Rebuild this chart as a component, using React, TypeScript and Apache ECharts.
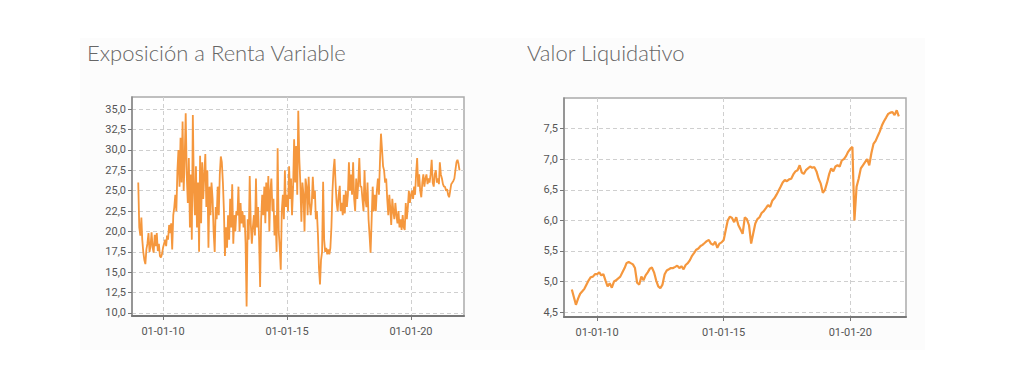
import React, { useEffect, useRef } from "react";
import * as echarts from "echarts";

// ---- Exposición a Renta Variable (%), semi-monthly readings per year ----
const expo2009 = [26.0, 20.5, 19.5, 21.7, 19.0, 17.5, 16.5, 16.0, 17.8, 18.5, 19.8, 17.5, 18.2, 19.9, 18.0, 17.4, 19.6, 18.2, 19.8, 17.6, 18.5, 17.0, 16.8, 17.2];
const expo2010 = [18.0, 18.5, 19.0, 18.2, 19.5, 19.0, 20.8, 19.8, 21.0, 17.8, 22.0, 23.0, 24.5, 22.5, 27.5, 30.0, 25.5, 31.5, 26.0, 33.5, 25.0, 29.0, 34.5, 27.0];
const expo2011 = [23.5, 29.0, 20.5, 27.0, 19.0, 34.3, 25.0, 22.0, 28.0, 20.5, 26.0, 17.5, 29.3, 21.0, 28.5, 24.0, 27.0, 29.5, 23.0, 27.5, 18.0, 25.5, 22.0, 26.0];
const expo2012 = [24.0, 20.0, 17.5, 23.0, 21.5, 25.5, 22.0, 27.0, 29.2, 28.5, 26.0, 22.5, 17.0, 20.5, 18.0, 22.0, 19.0, 24.0, 20.5, 25.8, 18.5, 22.0, 20.0, 22.5];
const expo2013 = [22.0, 25.5, 20.0, 23.5, 21.0, 22.5, 20.5, 22.0, 18.5, 10.8, 21.5, 19.0, 26.8, 21.0, 18.5, 20.5, 22.0, 19.5, 26.5, 20.5, 23.0, 19.0, 13.2, 21.5];
const expo2014 = [24.5, 22.0, 25.5, 21.0, 26.0, 22.5, 26.8, 20.0, 25.0, 26.5, 22.5, 24.0, 19.5, 22.0, 17.5, 30.2, 20.0, 18.0, 15.3, 22.5, 24.5, 21.5, 27.5, 23.0];
const expo2015 = [24.5, 22.5, 28.0, 24.0, 26.5, 22.0, 25.5, 31.3, 26.0, 30.5, 24.5, 34.8, 29.0, 26.0, 21.2, 26.0, 24.5, 20.0, 26.5, 25.5, 22.0, 26.7, 23.5, 22.0];
const expo2016 = [23.5, 26.7, 24.0, 25.0, 21.5, 22.5, 19.6, 15.5, 13.5, 16.5, 17.5, 26.1, 19.0, 17.5, 18.0, 17.2, 17.8, 17.2, 18.0, 20.5, 25.0, 27.5, 28.9, 26.0];
const expo2017 = [23.5, 22.5, 24.5, 25.6, 22.5, 23.5, 22.0, 24.5, 22.2, 25.0, 23.0, 24.5, 28.5, 25.0, 27.0, 24.5, 28.5, 24.0, 22.5, 26.5, 24.0, 26.0, 29.0, 25.5];
const expo2018 = [25.5, 24.0, 22.5, 27.5, 24.0, 23.0, 26.0, 21.5, 19.5, 17.4, 21.5, 25.5, 22.5, 24.5, 22.5, 25.0, 26.5, 24.5, 28.5, 32.0, 30.0, 28.0, 27.5, 26.0];
const expo2019 = [26.5, 24.0, 22.0, 24.5, 23.0, 20.8, 24.0, 22.5, 21.5, 23.5, 22.0, 21.0, 22.5, 20.5, 21.5, 20.2, 22.0, 20.5, 20.2, 23.5, 21.5, 23.0, 25.0, 23.5];
const expo2020 = [24.5, 25.0, 24.0, 25.5, 24.5, 27.0, 29.0, 25.5, 27.0, 25.0, 24.2, 26.0, 27.0, 25.5, 26.5, 27.0, 25.8, 26.5, 26.0, 27.0, 28.8, 26.0, 25.5, 27.0];
const expo2021 = [27.5, 26.0, 26.5, 25.8, 28.5, 27.0, 26.5, 25.8, 25.5, 25.5, 25.0, 25.2, 24.5, 24.2, 25.0, 25.8, 26.0, 26.2, 26.5, 27.5, 28.5, 28.8, 28.3, 27.5];
const expoYears = [2009, 2010, 2011, 2012, 2013, 2014, 2015, 2016, 2017, 2018, 2019, 2020, 2021];
const expoByYear = [expo2009, expo2010, expo2011, expo2012, expo2013, expo2014, expo2015, expo2016, expo2017, expo2018, expo2019, expo2020, expo2021];

// ---- Valor Liquidativo, monthly readings per year ----
const nav2009 = [4.87, 4.74, 4.62, 4.72, 4.80, 4.84, 4.88, 4.95, 5.02, 5.07, 5.08, 5.12];
const nav2010 = [5.12, 5.15, 5.10, 5.12, 5.02, 4.92, 4.97, 4.90, 5.00, 5.02, 5.05, 5.08];
const nav2011 = [5.15, 5.22, 5.30, 5.32, 5.30, 5.28, 5.22, 4.98, 4.95, 5.08, 5.02, 5.10];
const nav2012 = [5.15, 5.21, 5.23, 5.15, 5.02, 4.92, 4.89, 4.95, 5.12, 5.18, 5.20, 5.22];
const nav2013 = [5.22, 5.24, 5.26, 5.22, 5.25, 5.20, 5.27, 5.30, 5.35, 5.42, 5.47, 5.52];
const nav2014 = [5.54, 5.58, 5.60, 5.63, 5.66, 5.68, 5.62, 5.60, 5.65, 5.55, 5.62, 5.64];
const nav2015 = [5.68, 5.85, 6.00, 6.06, 6.04, 5.97, 6.05, 5.92, 5.85, 5.78, 6.05, 6.02];
const nav2016 = [5.92, 5.62, 5.78, 5.95, 6.02, 6.05, 6.12, 6.15, 6.20, 6.25, 6.22, 6.32];
const nav2017 = [6.36, 6.42, 6.48, 6.55, 6.62, 6.66, 6.64, 6.67, 6.68, 6.75, 6.80, 6.82];
const nav2018 = [6.90, 6.78, 6.76, 6.82, 6.85, 6.88, 6.86, 6.87, 6.80, 6.68, 6.60, 6.45];
const nav2019 = [6.50, 6.62, 6.75, 6.85, 6.80, 6.88, 6.90, 6.88, 6.98, 7.00, 7.05, 7.12];
const nav2020 = [7.17, 7.20, 6.00, 6.55, 6.68, 6.85, 6.90, 6.95, 7.00, 6.90, 7.10, 7.25];
const nav2021 = [7.30, 7.38, 7.45, 7.55, 7.62, 7.68, 7.74, 7.76, 7.77, 7.72, 7.80, 7.70];
const navYears = [2009, 2010, 2011, 2012, 2013, 2014, 2015, 2016, 2017, 2018, 2019, 2020, 2021];
const navByYear = [nav2009, nav2010, nav2011, nav2012, nav2013, nav2014, nav2015, nav2016, nav2017, nav2018, nav2019, nav2020, nav2021];

// ---- axis ticks ----
const xTickYears = [2010, 2015, 2020];
const expoTicks = [10, 12.5, 15, 17.5, 20, 22.5, 25, 27.5, 30, 32.5, 35];
const navTicks = [4.5, 5, 5.5, 6, 6.5, 7, 7.5];

const titles = ["Exposición a Renta Variable", "Valor Liquidativo"];

const ORANGE = "#F5973D";

function buildExpo() {
  const out: [number, number][] = [];
  expoYears.forEach((y, i) => {
    expoByYear[i].forEach((v, k) => {
      out.push([Date.UTC(y, Math.floor(k / 2), k % 2 ? 16 : 1), v]);
    });
  });
  return out;
}
function buildNav() {
  const out: [number, number][] = [];
  navYears.forEach((y, i) => {
    navByYear[i].forEach((v, k) => {
      out.push([Date.UTC(y, k, 1), v]);
    });
  });
  return out;
}

const xTickValues = xTickYears.map((y) => Date.UTC(y, 0, 1));

function xAxisFor(gridIndex: number, min: number, max: number) {
  return {
    type: "value",
    gridIndex,
    min,
    max,
    axisLine: { show: true, onZero: false, lineStyle: { color: "#777", width: 2 } },
    axisTick: { show: true, customValues: xTickValues, length: 4, lineStyle: { color: "#777" } },
    axisLabel: {
      customValues: xTickValues,
      color: "#555",
      fontSize: 11,
      fontFamily: "Roboto",
      margin: 10,
      formatter: (v: number) => "01-01-" + String(new Date(v).getUTCFullYear()).slice(2),
    },
    splitLine: { show: true, lineStyle: { color: "#cfcfcf", type: [4, 3], width: 1 } },
  };
}

function yAxisFor(gridIndex: number, min: number, max: number, ticks: number[], digits: number) {
  return {
    type: "value",
    gridIndex,
    min,
    max,
    axisLine: { show: true, onZero: false, lineStyle: { color: "#888", width: 1.5 } },
    axisTick: { show: true, customValues: ticks, length: 4, lineStyle: { color: "#777" } },
    axisLabel: {
      customValues: ticks,
      color: "#555",
      fontSize: 11,
      fontFamily: "Roboto",
      margin: 6,
      formatter: (v: number) => v.toFixed(digits).replace(".", ","),
    },
    splitLine: { show: true, lineStyle: { color: "#cfcfcf", type: [4, 3], width: 1 } },
  };
}

export default function App() {
  const ref = useRef<HTMLDivElement>(null);
  useEffect(() => {
    if (!ref.current) return;
    const chart = echarts.init(ref.current, null, { renderer: "svg" });
    chart.setOption({
      animation: false,
      backgroundColor: "#ffffff",
      graphic: [
        { type: "rect", z: -10, shape: { x: 80, y: 38, width: 845, height: 312 }, style: { fill: "#fcfcfc" } },
        {
          type: "text",
          left: 87,
          top: 41,
          style: { text: titles[0], fill: "#666", fontSize: 22, fontFamily: "Lato", fontWeight: 300 },
        },
        {
          type: "text",
          left: 527,
          top: 41,
          style: { text: titles[1], fill: "#666", fontSize: 22, fontFamily: "Lato", fontWeight: 300 },
        },
      ],
      grid: [
        { left: 132, top: 97, width: 332, height: 219, show: true, borderColor: "#aaa", borderWidth: 1.5, backgroundColor: "#fff" },
        { left: 564, top: 98, width: 342, height: 219, show: true, borderColor: "#aaa", borderWidth: 1.5, backgroundColor: "#fff" },
      ],
      xAxis: [
        xAxisFor(0, Date.UTC(2008, 9, 1), Date.UTC(2022, 1, 20)),
        xAxisFor(1, Date.UTC(2008, 8, 10), Date.UTC(2022, 2, 15)),
      ],
      yAxis: [
        yAxisFor(0, 9.63, 36.5, expoTicks, 1),
        yAxisFor(1, 4.42, 8.0, navTicks, 1),
      ],
      series: [
        {
          type: "line",
          xAxisIndex: 0,
          yAxisIndex: 0,
          data: buildExpo(),
          showSymbol: false,
          lineStyle: { color: ORANGE, width: 1.8 },
          itemStyle: { color: ORANGE },
        },
        {
          type: "line",
          xAxisIndex: 1,
          yAxisIndex: 1,
          data: buildNav(),
          showSymbol: false,
          lineStyle: { color: ORANGE, width: 2.2 },
          itemStyle: { color: ORANGE },
        },
      ],
    });
    return () => chart.dispose();
  }, []);
  return (
    <div
      ref={ref}
      style={{ position: "fixed", left: 0, top: 0, width: 1033, height: 391 }}
    />
  );
}
